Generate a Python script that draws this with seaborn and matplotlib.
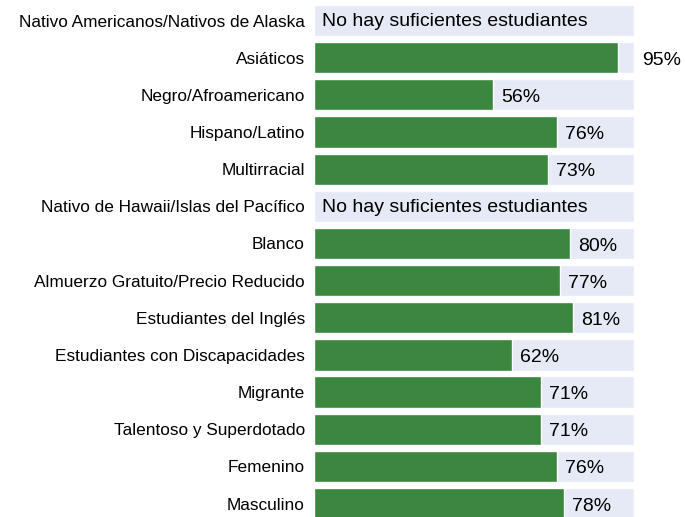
import matplotlib
matplotlib.use("Agg")
import matplotlib.pyplot as plt
import seaborn as sns
import numpy as np
import pandas as pd

categories = [
    "Nativo Americanos/Nativos de Alaska",
    "Asiáticos",
    "Negro/Afroamericano",
    "Hispano/Latino",
    "Multirracial",
    "Nativo de Hawaii/Islas del Pacífico",
    "Blanco",
    "Almuerzo Gratuito/Precio Reducido",
    "Estudiantes del Inglés",
    "Estudiantes con Discapacidades",
    "Migrante",
    "Talentoso y Superdotado",
    "Femenino",
    "Masculino",
]
values = [np.nan, 95, 56, 76, 73, np.nan, 80, 77, 81, 62, 71, 71, 76, 78]
full = [100] * len(categories)
missing_text = "No hay suficientes estudiantes"

df = pd.DataFrame({"cat": categories, "val": values, "full": full})

sns.set_style("white")
plt.rcParams["font.family"] = ["Liberation Sans", "DejaVu Sans"]

fig = plt.figure(figsize=(6.85, 5.17), dpi=100)
ax = fig.add_axes([314 / 685, 0, 320 / 685, 1])

sns.barplot(data=df, y="cat", x="full", color="#E6E9F6", saturation=1,
            width=0.84, ax=ax, orient="h")
sns.barplot(data=df, y="cat", x="val", color="#3C873F", saturation=1,
            width=0.84, ax=ax, orient="h")

dy = 0.07
for i, v in enumerate(values):
    if np.isnan(v):
        ax.text(2.5, i + dy * 0.3, missing_text, va="center", ha="left",
                fontsize=14, color="black")
    else:
        x = v + 2.5 if v < 90 else 102.5
        ax.text(x, i + dy, f"{int(v)}%", va="center", ha="left",
                fontsize=14, color="black", clip_on=False)

ax.set_xlim(0, 100)
ax.set_ylim(13.363, -0.552)
ax.set_xlabel("")
ax.set_ylabel("")
ax.set_xticks([])
ax.tick_params(axis="y", length=0, pad=6.5, labelsize=12.4, labelcolor="black")
for s in ax.spines.values():
    s.set_visible(False)

fig.savefig("out.png", dpi=100)
